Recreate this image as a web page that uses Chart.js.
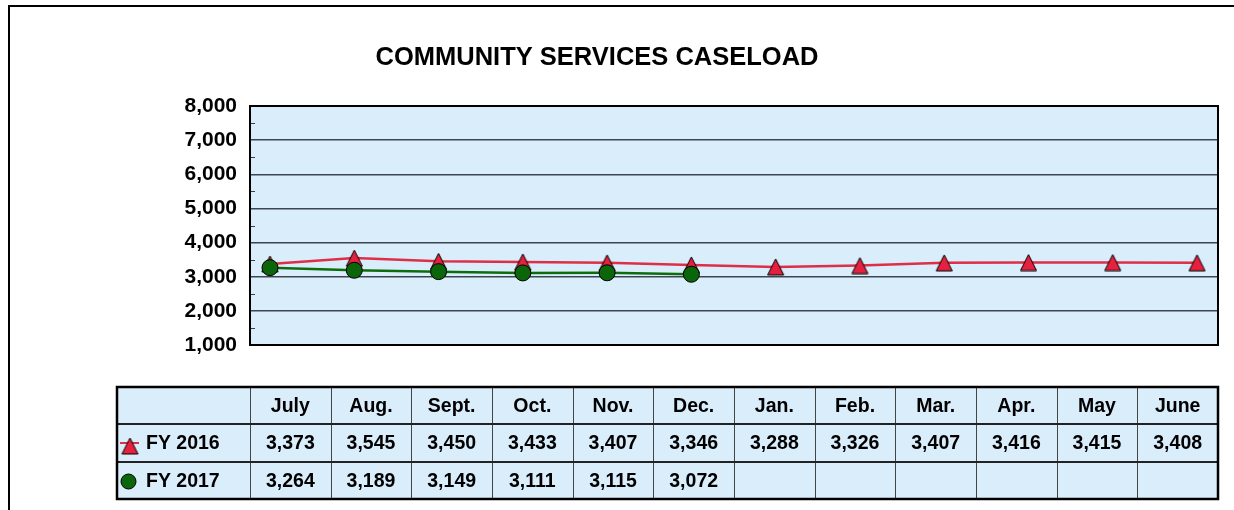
<!DOCTYPE html>
<html>
<head>
<meta charset="utf-8">
<script src="https://cdn.jsdelivr.net/npm/chart.js@4.4.1/dist/chart.umd.min.js"></script>
<style>
html,body{margin:0;padding:0;background:#fff;}
#wrap{width:1234px;height:510px;position:relative;}
</style>
</head>
<body>
<div id="wrap"><canvas id="c" width="1234" height="510"></canvas></div>
<script>
const TITLE = 'COMMUNITY SERVICES CASELOAD';
const months = ['July','Aug.','Sept.','Oct.','Nov.','Dec.','Jan.','Feb.','Mar.','Apr.','May','June'];
const fy2016 = [3373,3545,3450,3433,3407,3346,3288,3326,3407,3416,3415,3408];
const fy2017 = [3264,3189,3149,3111,3115,3072];
const seriesNames = ['FY 2016','FY 2017'];
const yTicks = [1000,2000,3000,4000,5000,6000,7000,8000];

const FONT = '"Liberation Sans", Arial, sans-serif';
const BG = '#d9edfb';
const RED = '#e5213f';
const REDLINE = '#de2f48';
const GREEN = '#0b650b';
const GREENLINE = '#0d6d0d';
const fmt = v => v.toLocaleString('en-US');

// triangle marker image (16 wide x 16 tall)
const tri = document.createElement('canvas');
tri.width = 19; tri.height = 18;
(function () {
  const t = tri.getContext('2d');
  t.fillStyle = RED; t.strokeStyle = '#000'; t.lineWidth = 1;
  t.beginPath(); t.moveTo(9.5, 1); t.lineTo(17.5, 17); t.lineTo(1.5, 17); t.closePath();
  t.fill(); t.stroke();
})();

const decor = {
  id: 'decor',
  beforeDraw(chart) {
    const {ctx, chartArea: a} = chart;
    ctx.save();
    ctx.fillStyle = '#fff';
    ctx.fillRect(0, 0, chart.width, chart.height);
    ctx.fillStyle = BG;
    ctx.fillRect(a.left, a.top, a.right - a.left, a.bottom - a.top);
    // outer frame
    ctx.fillStyle = '#000';
    ctx.fillRect(8, 5, chart.width - 8, 2);
    ctx.fillRect(8, 5, 2, chart.height - 5);
    // title
    ctx.font = 'bold 25.5px ' + FONT;
    ctx.textAlign = 'center';
    ctx.textBaseline = 'middle';
    ctx.fillStyle = '#000';
    ctx.fillText(TITLE, 597, 58);
    ctx.restore();
  },
  beforeDatasetsDraw(chart) {
    const {ctx, chartArea: a, scales: {y}} = chart;
    ctx.save();
    // minor ticks
    ctx.strokeStyle = '#4a3a30';
    ctx.lineWidth = 1;
    for (let i = 0; i < yTicks.length - 1; i++) {
      const py = Math.round(y.getPixelForValue((yTicks[i] + yTicks[i+1]) / 2)) + 0.5;
      ctx.beginPath(); ctx.moveTo(a.left, py); ctx.lineTo(a.left + 5, py); ctx.stroke();
    }
    ctx.strokeStyle = '#000';
    ctx.lineWidth = 2;
    ctx.strokeRect(a.left, a.top, a.right - a.left, a.bottom - a.top);
    ctx.restore();
  },
  afterDraw(chart) {
    const {ctx, chartArea: a} = chart;
    const tLeft = 117, tRight = a.right;
    const rows = [387, 424, 462, 499];
    const colW = (a.right - a.left) / months.length;
    ctx.save();
    ctx.fillStyle = BG;
    ctx.fillRect(tLeft, rows[0], tRight - tLeft, rows[3] - rows[0]);
    // vertical lines
    ctx.strokeStyle = '#444';
    ctx.lineWidth = 1;
    for (let i = 0; i < months.length; i++) {
      const x = Math.round(a.left + i * colW) + 0.5;
      ctx.beginPath(); ctx.moveTo(x, rows[0]); ctx.lineTo(x, rows[3]); ctx.stroke();
    }
    // horizontal inner lines
    ctx.strokeStyle = '#222';
    ctx.lineWidth = 2;
    for (let r = 1; r < 3; r++) {
      ctx.beginPath(); ctx.moveTo(tLeft, rows[r]); ctx.lineTo(tRight, rows[r]); ctx.stroke();
    }
    // outer border
    ctx.strokeStyle = '#000';
    ctx.lineWidth = 2.5;
    ctx.strokeRect(tLeft, rows[0], tRight - tLeft, rows[3] - rows[0]);
    // text
    ctx.fillStyle = '#000';
    ctx.font = 'bold 19.5px ' + FONT;
    ctx.textAlign = 'center';
    ctx.textBaseline = 'middle';
    const series = [fy2016, fy2017];
    for (let i = 0; i < months.length; i++) {
      const cx = a.left + (i + 0.5) * colW;
      ctx.fillText(months[i], cx, (rows[0] + rows[1]) / 2 + 1);
      for (let s = 0; s < 2; s++) {
        if (series[s][i] !== undefined) {
          ctx.fillText(fmt(series[s][i]), cx, (rows[s+1] + rows[s+2]) / 2 + 1);
        }
      }
    }
    // legend labels
    ctx.textAlign = 'left';
    for (let s = 0; s < 2; s++) {
      const cy = (rows[s+1] + rows[s+2]) / 2 + 1;
      ctx.fillStyle = '#000';
      ctx.fillText(seriesNames[s], 146, cy);
    }
    // legend markers
    let cy = (rows[1] + rows[2]) / 2;
    ctx.strokeStyle = REDLINE; ctx.lineWidth = 2;
    ctx.beginPath(); ctx.moveTo(120, cy); ctx.lineTo(139, cy); ctx.stroke();
    ctx.drawImage(tri, 120.5, cy - 6);
    cy = (rows[2] + rows[3]) / 2 + 1;
    ctx.fillStyle = GREEN; ctx.strokeStyle = '#000'; ctx.lineWidth = 1;
    ctx.beginPath(); ctx.arc(128.5, cy, 7.5, 0, Math.PI * 2); ctx.fill(); ctx.stroke();
    ctx.restore();
  }
};

new Chart(document.getElementById('c'), {
  type: 'line',
  data: {
    datasets: [
      {
        label: seriesNames[0],
        data: fy2016.map((v, i) => ({x: i, y: v})),
        borderColor: REDLINE,
        borderWidth: 2.5,
        pointStyle: tri,
        pointRadius: 9,
        tension: 0,
        order: 1
      },
      {
        label: seriesNames[1],
        data: fy2017.map((v, i) => ({x: i, y: v})),
        borderColor: GREENLINE,
        borderWidth: 2.5,
        pointStyle: 'circle',
        pointRadius: 8,
        pointBackgroundColor: GREEN,
        pointBorderColor: '#000',
        pointBorderWidth: 1,
        tension: 0,
        order: 0
      }
    ]
  },
  options: {
    responsive: false,
    animation: false,
    layout: {padding: {top: 106, bottom: 165, left: 0, right: 16}},
    plugins: {legend: {display: false}, title: {display: false}, tooltip: {enabled: false}},
    scales: {
      x: {
        type: 'linear', display: false, min: -0.2373, max: 11.249
      },
      y: {
        min: 1000, max: 8000,
        afterFit(scale) { scale.width = 250; },
        afterBuildTicks(scale) { scale.ticks = yTicks.map(v => ({value: v})); },
        ticks: {
          callback: v => fmt(v),
          font: {family: FONT, size: 21, weight: 'bold'},
          color: '#000',
          padding: 3
        },
        grid: {color: '#3d4650', lineWidth: 1.5, tickColor: 'rgba(0,0,0,0)', tickLength: 10},
        border: {display: false}
      }
    }
  },
  plugins: [decor]
});
</script>
</body>
</html>
